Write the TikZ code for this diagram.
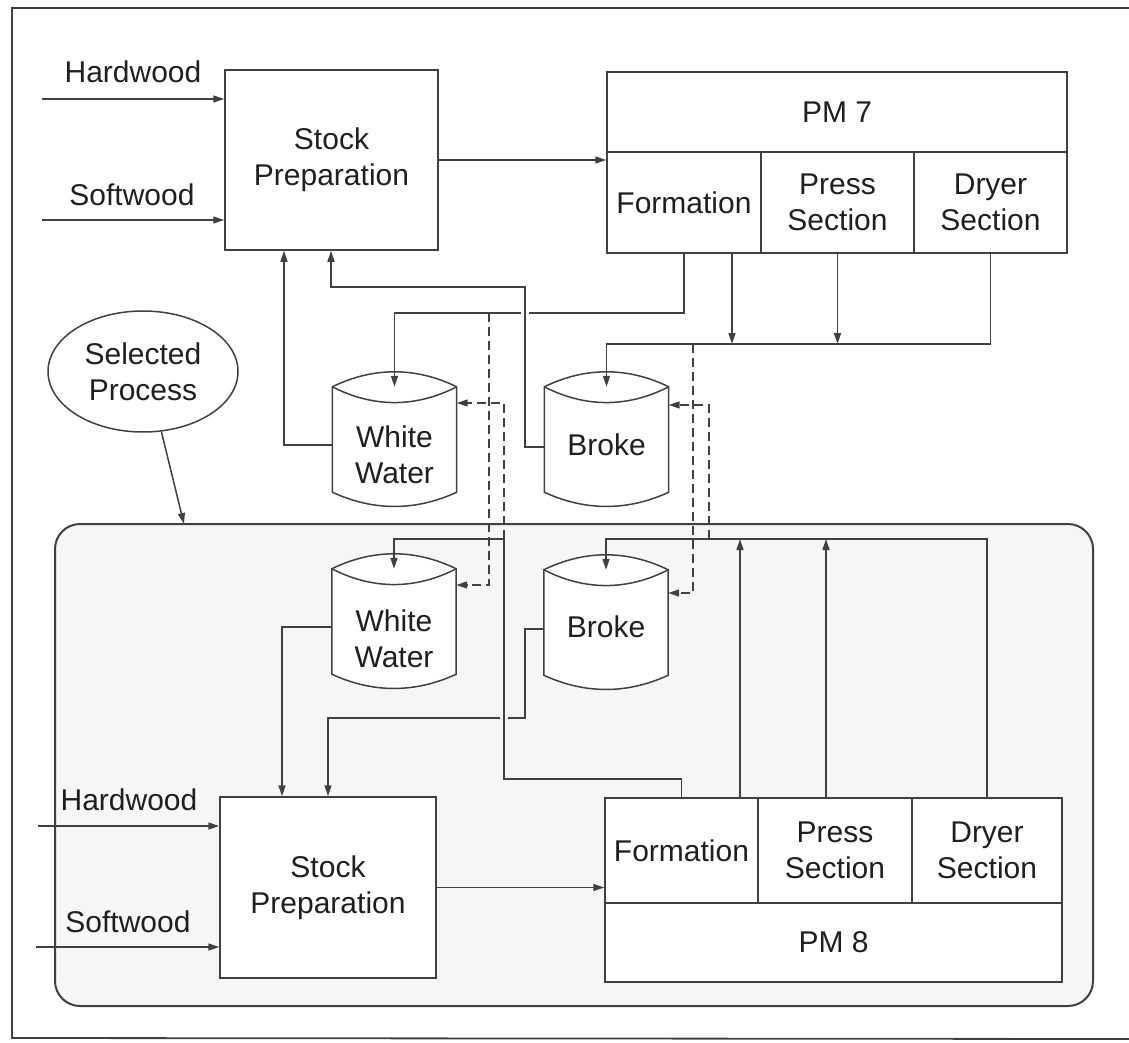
\documentclass[tikz,border=0pt]{standalone}
\usepackage{fontspec}
\setmainfont{Liberation Sans}
\usetikzlibrary{arrows.meta,shapes.geometric,calc}

\definecolor{linec}{gray}{0.25}
\definecolor{textc}{gray}{0.12}
\definecolor{panel}{gray}{0.965}
\newcommand\lbl{\fontsize{30}{36}\selectfont}

% storage tank: body between the node corners, lens-shaped lid, curved base
\newcommand\drumshape[1]{%
  \draw[ln, fill=white]
    (#1.north west) .. controls ($(#1.north west)+(41,-20)$) and ($(#1.north east)+(-41,-20)$) .. (#1.north east)
    -- (#1.south east) .. controls ($(#1.south east)+(-41,19)$) and ($(#1.south west)+(41,19)$) .. (#1.south west)
    -- cycle;
  \draw[ln] (#1.north west) .. controls ($(#1.north west)+(41,21)$) and ($(#1.north east)+(-41,21)$) .. (#1.north east);
}

\tikzset{
  ln/.style={draw=linec, line width=1.5pt, line join=miter},
  arr/.style={ln, -{Triangle[length=11pt,width=7pt]}},
  dsh/.style={ln, dash pattern=on 9pt off 5pt},
  darr/.style={dsh, -{Triangle[length=11pt,width=7pt]}},
  txt/.style={font=\lbl, align=center, text=textc},
  box/.style={ln, fill=white, inner sep=2pt, txt},
  drumbody/.style={minimum width=124pt, minimum height=105pt, inner sep=0pt},
  bridge/.style={line width=8pt},
}

\begin{document}
\begin{tikzpicture}[x=1pt,y=-1pt]
\useasboundingbox (0,0) rectangle (1129,1043);

% outer frame (runs off the right edge of the page)
\draw[linec, line width=1.8pt] (1135,8) -- (12,8) -- (12,1038) -- (1135,1039);

% selected process region
\node[ln, line width=2pt, fill=panel, rounded corners=25pt,
      minimum width=1038pt, minimum height=482pt] (selbox) at (574,765) {};

% selected process tag
\node[ln, ellipse, fill=white, minimum width=190pt, minimum height=121pt,
      inner sep=0pt, txt] (sel) at (143,371.5) {Selected\\Process};
\coordinate (selpt) at (184,524);
\draw[arr] (sel.-73) -- (selpt);

% ---------------- PM 7 line ----------------
\node[txt, anchor=base] (hw7) at (133,83) {Hardwood};
\node[txt, anchor=base] (sw7) at (132,205) {Softwood};
\node[box, minimum width=213pt, minimum height=180pt] (sp7) at (331.5,160) {Stock\\Preparation};
\node[box, minimum width=460pt, minimum height=80pt] (pm7) at (837,112) {PM 7};
\node[box, minimum width=154pt, minimum height=101pt] (fo7) at (684,202.5) {Formation};
\node[box, minimum width=153pt, minimum height=101pt] (pr7) at (837.5,202.5) {Press\\Section};
\node[box, minimum width=153pt, minimum height=101pt] (dr7) at (990.5,202.5) {Dryer\\Section};

\node[drumbody] (ww7) at (394.5,439.5) {};
\drumshape{ww7}
\node[txt] (ww7t) at (394.5,455) {White\\Water};
\node[drumbody] (br7) at (606.5,439.5) {};
\drumshape{br7}
\node[txt] (br7t) at (606.5,445) {Broke};

% ---------------- PM 8 line ----------------
\node[txt, anchor=base] (hw8) at (129,810) {Hardwood};
\node[txt, anchor=base] (sw8) at (128,932) {Softwood};
\node[box, minimum width=216pt, minimum height=181pt] (sp8) at (328,887.5) {Stock\\Preparation};
\node[box, minimum width=457pt, minimum height=79pt] (pm8) at (833.5,942.5) {PM 8};
\node[box, minimum width=153pt, minimum height=105pt] (fo8) at (681.5,850.5) {Formation};
\node[box, minimum width=154pt, minimum height=105pt] (pr8) at (835,850.5) {Press\\Section};
\node[box, minimum width=150pt, minimum height=105pt] (dr8) at (987,850.5) {Dryer\\Section};

\node[drumbody] (ww8) at (394,621.5) {};
\drumshape{ww8}
\node[txt] (ww8t) at (394,638.5) {White\\Water};
\node[drumbody] (br8) at (606,622.5) {};
\drumshape{br8}
\node[txt] (br8t) at (606,627) {Broke};

% ---------------- PM 7 flows ----------------
\coordinate (hw7s) at (42,99);
\coordinate (sw7s) at (42,220);
\draw[arr] (hw7s) -- (hw7s -| sp7.west);
\draw[arr] (sw7s) -- (sw7s -| sp7.west);
\draw[arr] (sp7.east) -- (sp7.east -| fo7.west);

% white water from formation
\coordinate (a1) at (684,313);
\coordinate (a2) at (394.5,313);
\draw[arr] (fo7.south) -- (a1) -- (a2) -- (ww7.north);

% white water back to stock preparation
\coordinate (b1) at (284,445);
\draw[arr] ($(ww7.west)+(0,5.5)$) -- (b1) -- (b1 |- sp7.south);

% broke back to stock preparation (jumps the white water line)
\draw[white, bridge] (525,305) -- (525,321);
\coordinate (c1) at (525,447);
\coordinate (c2) at (525,287);
\coordinate (c3) at (331,287);
\draw[arr] ($(br7.west)+(0,7.5)$) -- (c1) -- (c2) -- (c3) -- (c3 |- sp7.south);

% broke from the machine sections
\coordinate (d1) at (990.5,344);
\coordinate (d2) at (606.5,344);
\draw[arr] (dr7.south) -- (d1) -- (d2) -- (br7.north);
\coordinate (e1) at (732,344);
\coordinate (e2) at (837.5,344);
\draw[arr] (e1 |- fo7.south) -- (e1);
\draw[arr] (pr7.south) -- (e2);

% ---------------- PM 8 flows ----------------
\coordinate (hw8s) at (38,826);
\coordinate (sw8s) at (36,947);
\draw[arr] (hw8s) -- (hw8s -| sp8.west);
\draw[arr] (sw8s) -- (sw8s -| sp8.west);
\draw[arr] (sp8.east) -- (sp8.east -| fo8.west);

% white water back to stock preparation
\coordinate (i1) at (282,627);
\draw[arr] ($(ww8.west)+(0,5.5)$) -- (i1) -- (i1 |- sp8.north);

% broke back to stock preparation
\coordinate (k1) at (525,629);
\coordinate (k2) at (525,718);
\coordinate (k3) at (328,718);
\draw[arr] ($(br8.west)+(0,6.5)$) -- (k1) -- (k2) -- (k3) -- (k3 |- sp8.north);

% white water from formation (jumps the broke line)
\draw[panel, bridge] (504,710) -- (504,726);
\coordinate (f1) at (681.5,779);
\coordinate (f2) at (504,779);
\coordinate (f3) at (504,539);
\coordinate (f4) at (394,539);
\draw[arr] (fo8.north) -- (f1) -- (f2) -- (f3) -- (f4) -- (ww8.north);

% broke from the machine sections
\coordinate (g1) at (987,539);
\coordinate (g2) at (606,539);
\draw[arr] (dr8.north) -- (g1) -- (g2) -- (br8.north);
\coordinate (h1) at (740,539);
\coordinate (h2) at (826,539);
\draw[arr] (h1 |- fo8.north) -- (h1);
\draw[arr] (h2 |- pr8.north) -- (h2);

% ---------------- exchanges between the two lines ----------------
\coordinate (m1) at (489,313);
\coordinate (m2) at (489,585);
\draw[darr] (m1) -- (m2) -- (m2 -| ww8.east);
\coordinate (n1) at (504,403);
\draw[darr] (f3) -- (n1) -- (n1 -| ww7.east);
\coordinate (p1) at (693,344);
\coordinate (p2) at (693,593);
\draw[darr] (p1) -- (p2) -- (p2 -| br8.east);
\coordinate (q1) at (709,539);
\coordinate (q2) at (709,405);
\draw[darr] (q1) -- (q2) -- (q2 -| br7.east);

\end{tikzpicture}
\end{document}
